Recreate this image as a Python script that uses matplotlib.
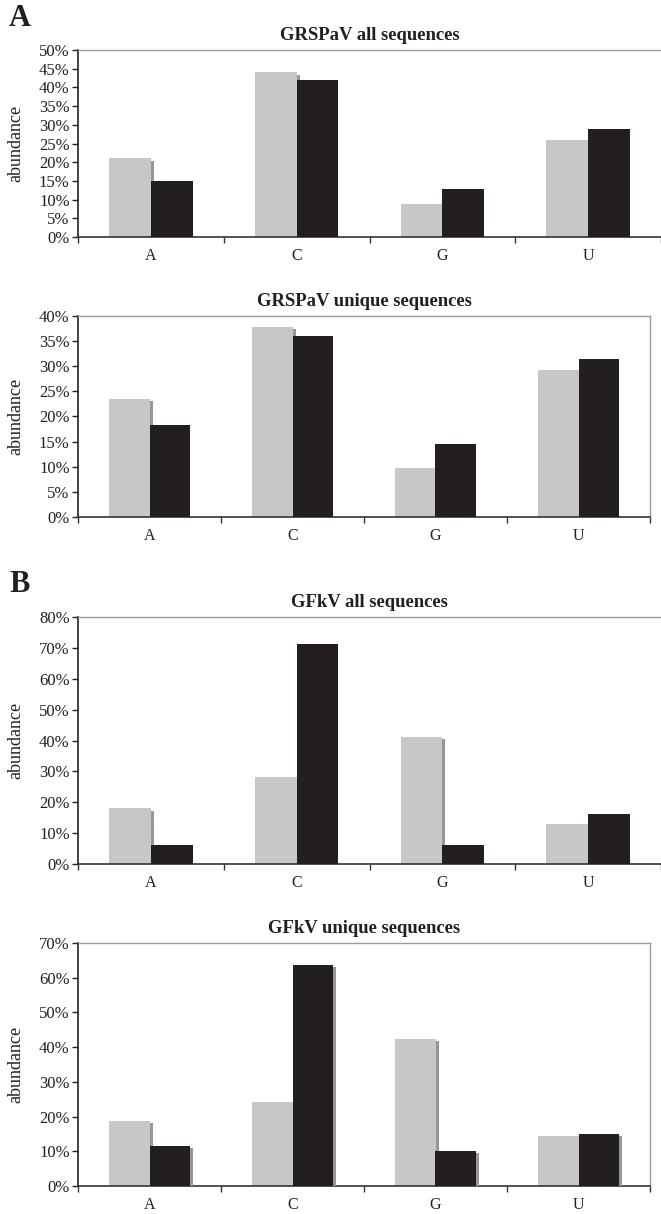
import matplotlib
matplotlib.use("Agg")
import matplotlib.pyplot as plt
import matplotlib.patheffects as pe
from matplotlib.ticker import FuncFormatter, MultipleLocator
import numpy as np

plt.rcParams['font.family'] = ['Liberation Serif', 'DejaVu Serif']

categories = ["A", "C", "G", "U"]

titles = ["GRSPaV all sequences", "GRSPaV unique sequences",
          "GFkV all sequences", "GFkV unique sequences"]

grspav_all_gray = [21.0, 44.0, 8.8, 26.0]
grspav_all_black = [15.0, 42.0, 12.9, 29.0]
grspav_uniq_gray = [23.4, 37.8, 9.7, 29.2]
grspav_uniq_black = [18.3, 36.0, 14.5, 31.4]
gfkv_all_gray = [18.0, 28.1, 41.1, 12.9]
gfkv_all_black = [6.0, 71.2, 6.0, 16.1]
gfkv_uniq_gray = [18.8, 24.3, 42.4, 14.4]
gfkv_uniq_black = [11.5, 63.6, 10.1, 15.0]

ymaxes = [50, 40, 80, 70]
ysteps = [5, 5, 10, 10]

W, H = 661, 1214
fig = plt.figure(figsize=(W / 100, H / 100), dpi=100)

# pixel boxes: left, top, right, bottom
boxes = [(78, 50, 661, 237), (78, 316, 650, 517),
         (78, 617, 661, 864), (78, 943, 650, 1186)]
right_spine = [False, True, False, True]
black_shadow = [False, False, False, True]

series = [(grspav_all_gray, grspav_all_black),
          (grspav_uniq_gray, grspav_uniq_black),
          (gfkv_all_gray, gfkv_all_black),
          (gfkv_uniq_gray, gfkv_uniq_black)]

GRAY = '#c6c7c9'
BLACK = '#231f20'
SHADOW = '#979797'
TXT = '#231f20'

shadow = [pe.SimplePatchShadow(offset=(2.2, -1.5), shadow_rgbFace=SHADOW, alpha=1.0), pe.Normal()]

for i, (box, (g, b)) in enumerate(zip(boxes, series)):
    l, t, r, btm = box
    ax = fig.add_axes([l / W, 1 - btm / H, (r - l) / W, (btm - t) / H])
    x = np.arange(len(categories))
    w = 0.286
    bars_g = ax.bar(x - w / 2, g, width=w, color=GRAY, edgecolor='none', zorder=2)
    for p in bars_g:
        p.set_path_effects(shadow)
    bars_b = ax.bar(x + w / 2, b, width=w, color=BLACK, edgecolor='none', zorder=3)
    if black_shadow[i]:
        for p in bars_b:
            p.set_path_effects(shadow)
    ax.set_xlim(-0.5, 3.5)
    ax.set_ylim(0, ymaxes[i])
    ax.yaxis.set_major_locator(MultipleLocator(ysteps[i]))
    ax.yaxis.set_major_formatter(FuncFormatter(lambda v, p: f"{int(round(v))}%"))
    ax.set_xticks(x)
    ax.set_xticklabels(categories)
    ax.set_xticks(np.arange(-0.5, 4.0, 1.0), minor=True)
    ax.tick_params(axis='x', which='major', length=0, pad=8, labelsize=11.5, labelcolor=TXT)
    ax.tick_params(axis='x', which='minor', length=4, width=1, direction='out', color='#333333')
    ax.tick_params(axis='y', length=4, width=1, direction='out', pad=2, labelsize=12, labelcolor=TXT, color='#222222')
    for s in ['top', 'right']:
        ax.spines[s].set_color('#9a9a9a')
        ax.spines[s].set_linewidth(1.0)
    ax.spines['right'].set_visible(right_spine[i])
    ax.spines['left'].set_color('#222222')
    ax.spines['left'].set_linewidth(1.2)
    ax.spines['bottom'].set_color('#333333')
    ax.spines['bottom'].set_linewidth(1.2)
    ax.set_ylabel('abundance', fontsize=13, color=TXT)
    ax.yaxis.set_label_coords(-54 / (r - l), 0.5)
    ax.set_title(titles[i], fontsize=13.4, fontweight='bold', color=TXT, pad=7)

fig.text(9 / W, 1 - 19 / H, 'A', fontsize=22, fontweight='bold', va='center', ha='left', color=TXT)
fig.text(9 / W, 1 - 584 / H, 'B', fontsize=22, fontweight='bold', va='center', ha='left', color=TXT)

fig.savefig('out.png', dpi=100)
